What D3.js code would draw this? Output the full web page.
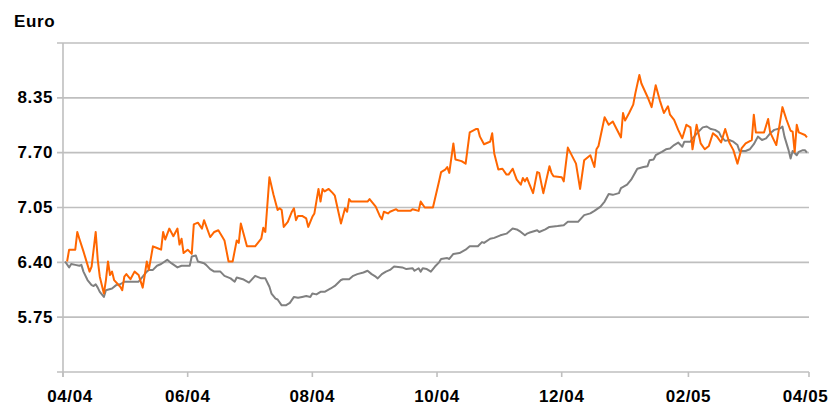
<!DOCTYPE html>
<html>
<head>
<meta charset="utf-8">
<script src="https://cdn.jsdelivr.net/npm/d3@7"></script>
<style>
  html, body { margin: 0; padding: 0; background: #fff; }
  svg text { font-family: "Liberation Sans", Arial, sans-serif; font-weight: bold; font-size: 17px; fill: #000; letter-spacing: 0.6px; }
</style>
</head>
<body>
<svg id="chart" width="831" height="405"></svg>
<script>
// ---- data (days since 2004-04-01, values in Euro) ----
const startDate = Date.UTC(2004, 3, 1);
const endDate = Date.UTC(2005, 3, 1);

const stockDays = [2,3,6,7,8,10,11,13,14,16,17,18,20,21,22,23,24,25,28,29,30,31,33,35,37,39,40,41,42,44,46,48,49,50,52,54,56,57,58,59,61,63,64,66,68,69,72,74,76,78,79,81,83,85,86,87,90,94,97,98,99,101,103,105,106,107,108,110,112,113,114,115,117,119,120,122,123,125,126,127,128,130,132,133,136,138,139,140,141,149,150,153,155,156,157,159,160,163,164,170,171,174,175,177,181,184,185,187,188,189,191,192,195,197,199,202,203,204,206,208,209,210,211,213,215,217,218,220,222,224,225,226,227,228,230,232,233,235,238,239,240,244,245,247,251,253,255,258,260,261,262,265,267,269,273,274,275,277,279,280,282,283,286,288,290,292,294,296,297,299,301,303,305,307,308,310,312,314,316,318,320,322,324,326,328,330,332,334,337,338,339,343,345,346,349,352,354,356,357,358,359,360,363,364];
const stockPrice = [6.41,6.55,6.55,6.76,6.68,6.53,6.45,6.29,6.35,6.76,6.43,6.23,6.03,6.19,6.41,6.25,6.29,6.19,6.11,6.07,6.23,6.26,6.20,6.29,6.25,6.10,6.25,6.41,6.31,6.59,6.57,6.55,6.76,6.67,6.80,6.71,6.80,6.61,6.68,6.51,6.55,6.50,6.85,6.87,6.80,6.90,6.70,6.76,6.78,6.70,6.66,6.41,6.41,6.66,6.63,6.86,6.59,6.59,6.68,6.81,6.76,7.41,7.20,7.02,7.04,7.02,6.82,6.88,7.00,7.04,6.90,6.95,6.95,6.92,6.82,6.94,6.98,7.27,7.12,7.27,7.24,7.27,7.22,7.19,6.86,7.04,7.00,7.15,7.12,7.12,7.15,7.06,6.95,6.91,7.00,6.98,7.00,7.03,7.01,7.01,7.03,7.01,7.12,7.05,7.05,7.36,7.47,7.50,7.53,7.46,7.81,7.62,7.60,7.57,7.94,7.98,7.98,7.89,7.80,7.82,7.83,7.93,7.69,7.50,7.51,7.44,7.44,7.51,7.38,7.32,7.40,7.36,7.40,7.34,7.22,7.47,7.46,7.22,7.54,7.46,7.42,7.41,7.36,7.76,7.57,7.27,7.61,7.67,7.53,7.74,7.78,8.12,8.03,8.07,7.88,8.17,8.08,8.17,8.27,8.40,8.62,8.52,8.36,8.24,8.50,8.32,8.17,8.25,8.15,8.09,7.97,7.87,8.03,8.00,7.74,8.03,7.81,7.74,7.78,7.93,7.89,7.82,7.98,7.82,7.73,7.57,7.75,7.81,7.85,8.15,7.94,7.94,8.10,7.94,7.79,8.24,8.09,7.96,7.95,7.71,8.03,7.94,7.91,7.88];

const indexDays = [1,3,4,6,8,9,10,12,14,15,16,17,18,20,21,24,26,28,30,37,39,41,42,44,46,48,51,53,56,58,62,63,65,66,69,70,72,74,77,79,82,84,85,88,91,94,97,99,101,102,104,105,107,109,111,113,115,117,119,121,122,124,126,128,131,133,136,137,140,142,144,147,149,151,153,154,156,158,160,162,166,168,171,172,174,175,176,178,180,182,184,185,188,189,191,194,197,199,203,205,206,209,211,214,217,220,222,224,226,227,228,232,233,236,238,242,245,247,252,255,258,260,263,265,267,269,272,273,276,278,281,284,286,287,289,290,293,295,297,299,301,303,304,307,308,311,313,315,317,319,321,322,324,326,328,330,331,334,336,338,340,342,344,346,348,351,352,353,355,356,357,359,360,362,363,364];
const indexValue = [6.41,6.34,6.38,6.37,6.36,6.37,6.29,6.19,6.13,6.12,6.14,6.10,6.05,5.99,6.07,6.09,6.13,6.14,6.17,6.17,6.23,6.29,6.31,6.31,6.36,6.38,6.43,6.39,6.34,6.36,6.36,6.47,6.48,6.41,6.39,6.37,6.32,6.29,6.29,6.24,6.21,6.17,6.22,6.20,6.16,6.24,6.21,6.21,6.11,6.03,5.97,5.96,5.89,5.89,5.92,5.99,5.98,5.99,6.00,5.99,6.03,6.02,6.05,6.05,6.09,6.12,6.19,6.20,6.20,6.24,6.26,6.28,6.30,6.26,6.23,6.21,6.26,6.29,6.31,6.35,6.34,6.32,6.33,6.30,6.33,6.29,6.33,6.32,6.29,6.35,6.40,6.44,6.45,6.44,6.50,6.51,6.55,6.59,6.59,6.64,6.63,6.68,6.69,6.72,6.74,6.80,6.79,6.76,6.72,6.74,6.75,6.78,6.76,6.79,6.82,6.83,6.84,6.88,6.88,6.96,6.98,7.01,7.06,7.12,7.21,7.20,7.22,7.28,7.32,7.38,7.51,7.53,7.54,7.61,7.62,7.67,7.71,7.74,7.75,7.79,7.82,7.77,7.83,7.83,7.87,7.95,8.00,8.01,7.98,7.97,7.94,7.89,7.84,7.85,7.83,7.79,7.72,7.72,7.74,7.80,7.89,7.85,7.87,7.93,7.97,7.99,8.01,7.89,7.73,7.63,7.72,7.67,7.71,7.73,7.73,7.70];

const gridValues = [5.10, 5.75, 6.40, 7.05, 7.70, 8.35, 9.00];
const yTickLabels = ["5.75", "6.40", "7.05", "7.70", "8.35"];
const xTickLabels = ["04/04", "06/04", "08/04", "10/04", "12/04", "02/05", "04/05"];
const yUnit = "Euro";

// ---- drawing ----
const svg = d3.select("#chart");
const plotLeft = 63, plotRight = 809, plotTop = 43, plotBottom = 372;

const x = d3.scaleUtc().domain([new Date(startDate), new Date(endDate)]).range([plotLeft, plotRight]);
const y = d3.scaleLinear().domain([5.10, 9.00]).range([plotBottom, plotTop]);
const dayToDate = d => d3.utcDay.offset(new Date(startDate), d);

const gridColor = "#bfbfbf";

// horizontal gridlines (with small tick stub left of axis)
svg.append("g").selectAll("line").data(gridValues).join("line")
  .attr("x1", plotLeft - 6).attr("x2", plotRight)
  .attr("y1", d => y(d)).attr("y2", d => y(d))
  .attr("stroke", gridColor).attr("stroke-width", 1.6);

// vertical axis line
svg.append("line")
  .attr("x1", plotLeft).attr("x2", plotLeft).attr("y1", plotTop).attr("y2", plotBottom + 5)
  .attr("stroke", gridColor).attr("stroke-width", 1.6);

// x ticks
const tickDates = d3.utcMonth.range(new Date(startDate), new Date(endDate + 1), 2);
svg.append("g").selectAll("line").data(tickDates).join("line")
  .attr("x1", d => x(d)).attr("x2", d => x(d))
  .attr("y1", plotBottom).attr("y2", plotBottom + 5)
  .attr("stroke", gridColor).attr("stroke-width", 1.6);

// x labels
svg.append("g").selectAll("text").data(tickDates).join("text")
  .attr("x", d => Math.max(70, Math.min(805.5, x(d))))
  .attr("y", 401.5)
  .attr("text-anchor", "middle")
  .text((d, i) => xTickLabels[i]);

// y labels
svg.append("g").selectAll("text").data(yTickLabels).join("text")
  .attr("x", 53)
  .attr("y", d => y(+d) + 5.5)
  .attr("text-anchor", "end")
  .text(d => d);

// unit label
svg.append("text").attr("x", 14).attr("y", 27).text(yUnit);

// series
const line = d3.line().x(d => x(dayToDate(d[0]))).y(d => y(d[1]));

svg.append("path")
  .datum(d3.zip(indexDays, indexValue))
  .attr("fill", "none").attr("stroke", "#808080").attr("stroke-width", 2)
  .attr("stroke-linejoin", "round")
  .attr("d", line);

svg.append("path")
  .datum(d3.zip(stockDays, stockPrice))
  .attr("fill", "none").attr("stroke", "#ff6600").attr("stroke-width", 2)
  .attr("stroke-linejoin", "round")
  .attr("d", line);
</script>
</body>
</html>
